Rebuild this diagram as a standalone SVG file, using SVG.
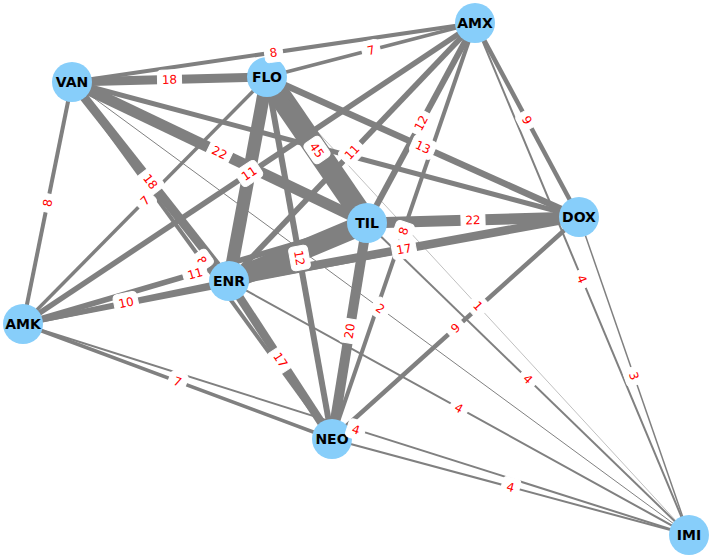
<svg xmlns="http://www.w3.org/2000/svg" width="714" height="560" viewBox="0 0 714 560">
<style>
  .e line { stroke: #808080; stroke-linecap: butt; }
  .n circle { fill: #87CEFA; }
  .n text { font-family: "DejaVu Sans", sans-serif; font-weight: bold; font-size: 14px; fill: #000; text-anchor: middle; }
  .l rect { fill: #fff; stroke: #fff; stroke-width: 1; }
  .l text { font-family: "DejaVu Sans", sans-serif; font-size: 12px; fill: #ff0000; text-anchor: middle; }
</style>
<rect width="714" height="560" fill="#fff"/>
<g id="connectors" class="e">
  <line x1="72" y1="82" x2="475" y2="23" stroke-width="4"/>
  <line x1="267" y1="77" x2="475" y2="23" stroke-width="3.5"/>
  <line x1="72" y1="82" x2="267" y2="77" stroke-width="9"/>
  <line x1="475" y1="23" x2="367" y2="223" stroke-width="6"/>
  <line x1="475" y1="23" x2="229" y2="281" stroke-width="5.5"/>
  <line x1="475" y1="23" x2="23" y2="324" stroke-width="5.5"/>
  <line x1="475" y1="23" x2="332" y2="439" stroke-width="4"/>
  <line x1="475" y1="23" x2="579" y2="217" stroke-width="4.5"/>
  <line x1="475" y1="23" x2="689" y2="535" stroke-width="2"/>
  <line x1="267" y1="77" x2="579" y2="217" stroke-width="6.5"/>
  <line x1="267" y1="77" x2="367" y2="223" stroke-width="22.5"/>
  <line x1="267" y1="77" x2="229" y2="281" stroke-width="13"/>
  <line x1="267" y1="77" x2="23" y2="324" stroke-width="3.5"/>
  <line x1="267" y1="77" x2="332" y2="439" stroke-width="6"/>
  <line x1="267" y1="77" x2="689" y2="535" stroke-width="0.5"/>
  <line x1="72" y1="82" x2="367" y2="223" stroke-width="11"/>
  <line x1="72" y1="82" x2="229" y2="281" stroke-width="9"/>
  <line x1="72" y1="82" x2="23" y2="324" stroke-width="4"/>
  <line x1="72" y1="82" x2="332" y2="439" stroke-width="4"/>
  <line x1="72" y1="82" x2="689" y2="535" stroke-width="1"/>
  <line x1="72" y1="82" x2="579" y2="217" stroke-width="5"/>
  <line x1="367" y1="223" x2="579" y2="217" stroke-width="11"/>
  <line x1="367" y1="223" x2="229" y2="281" stroke-width="20"/>
  <line x1="367" y1="223" x2="332" y2="439" stroke-width="10"/>
  <line x1="367" y1="223" x2="689" y2="535" stroke-width="2"/>
  <line x1="367" y1="223" x2="23" y2="324" stroke-width="5.5"/>
  <line x1="229" y1="281" x2="579" y2="217" stroke-width="8.5"/>
  <line x1="229" y1="281" x2="23" y2="324" stroke-width="5"/>
  <line x1="229" y1="281" x2="332" y2="439" stroke-width="8.5"/>
  <line x1="229" y1="281" x2="689" y2="535" stroke-width="2"/>
  <line x1="23" y1="324" x2="579" y2="217" stroke-width="4"/>
  <line x1="579" y1="217" x2="332" y2="439" stroke-width="4.5"/>
  <line x1="579" y1="217" x2="689" y2="535" stroke-width="1.5"/>
  <line x1="23" y1="324" x2="332" y2="439" stroke-width="3.5"/>
  <line x1="23" y1="324" x2="689" y2="535" stroke-width="2"/>
  <line x1="332" y1="439" x2="689" y2="535" stroke-width="2"/>
</g>
<g id="nodes" class="n">
  <g id="node-AMX"><circle cx="475" cy="23" r="20"/><text x="475" y="28">AMX</text></g>
  <g id="node-VAN"><circle cx="72" cy="82" r="20"/><text x="72" y="87">VAN</text></g>
  <g id="node-FLO"><circle cx="267" cy="77" r="20"/><text x="267" y="82">FLO</text></g>
  <g id="node-TIL"><circle cx="367" cy="223" r="20"/><text x="367" y="228">TIL</text></g>
  <g id="node-DOX"><circle cx="579" cy="217" r="20"/><text x="579" y="222">DOX</text></g>
  <g id="node-ENR"><circle cx="229" cy="281" r="20"/><text x="229" y="286">ENR</text></g>
  <g id="node-AMK"><circle cx="23" cy="324" r="20"/><text x="23" y="329">AMK</text></g>
  <g id="node-NEO"><circle cx="332" cy="439" r="20"/><text x="332" y="444">NEO</text></g>
  <g id="node-IMI"><circle cx="689" cy="535" r="20"/><text x="689" y="540">IMI</text></g>
</g>
<g id="edge-labels" class="l">
  <g transform="translate(273.5,52.5) rotate(-8.33)"><rect x="-9" y="-9.5" width="18" height="19" rx="4"/><text y="4.3">8</text></g>
  <g transform="translate(371,50) rotate(-14.55)"><rect x="-9" y="-9.5" width="18" height="19" rx="4"/><text y="4.3">7</text></g>
  <g transform="translate(169.5,79.5) rotate(-1.47)"><rect x="-12" y="-9.5" width="24" height="19" rx="4"/><text y="4.3">18</text></g>
  <g transform="translate(421,123) rotate(-61.6)"><rect x="-12" y="-9.5" width="24" height="19" rx="4"/><text y="4.3">12</text></g>
  <g transform="translate(352,152) rotate(-46.36)"><rect x="-12" y="-9.5" width="24" height="19" rx="4"/><text y="4.3">11</text></g>
  <g transform="translate(249,173.5) rotate(-33.66)"><rect x="-12" y="-9.5" width="24" height="19" rx="4"/><text y="4.3">11</text></g>
  <g transform="translate(403.5,231) rotate(-71.03)"><rect x="-9" y="-9.5" width="18" height="19" rx="4"/><text y="4.3">8</text></g>
  <g transform="translate(527,120) rotate(61.8)"><rect x="-9" y="-9.5" width="18" height="19" rx="4"/><text y="4.3">9</text></g>
  <g transform="translate(582,279) rotate(67.3)"><rect x="-9" y="-9.5" width="18" height="19" rx="4"/><text y="4.3">4</text></g>
  <g transform="translate(423,147) rotate(24.17)"><rect x="-12" y="-9.5" width="24" height="19" rx="4"/><text y="4.3">13</text></g>
  <g transform="translate(317,150) rotate(55.6)"><rect x="-12" y="-9.5" width="24" height="19" rx="4"/><text y="4.3">45</text></g>
  <g transform="translate(145,200.5) rotate(-45.35)"><rect x="-9" y="-9.5" width="18" height="19" rx="4"/><text y="4.3">7</text></g>
  <g transform="translate(299.5,258) rotate(79.8)"><rect x="-12" y="-9.5" width="24" height="19" rx="4"/><text y="4.3">12</text></g>
  <g transform="translate(478,306) rotate(47.3)"><rect x="-9" y="-9.5" width="18" height="19" rx="4"/><text y="4.3">1</text></g>
  <g transform="translate(219.5,152.5) rotate(25.5)"><rect x="-12" y="-9.5" width="24" height="19" rx="4"/><text y="4.3">22</text></g>
  <g transform="translate(150.5,181.5) rotate(51.7)"><rect x="-12" y="-9.5" width="24" height="19" rx="4"/><text y="4.3">18</text></g>
  <g transform="translate(47.5,203) rotate(-78.6)"><rect x="-9" y="-9.5" width="18" height="19" rx="4"/><text y="4.3">8</text></g>
  <g transform="translate(202,260.5) rotate(53.9)"><rect x="-9" y="-9.5" width="18" height="19" rx="4"/><text y="4.3">8</text></g>
  <g transform="translate(380.5,308.5) rotate(36.3)"><rect x="-9" y="-9.5" width="18" height="19" rx="4"/><text y="4.3">2</text></g>
  <g transform="translate(473,220) rotate(-1.6)"><rect x="-12" y="-9.5" width="24" height="19" rx="4"/><text y="4.3">22</text></g>
  <g transform="translate(349.5,331) rotate(-80.8)"><rect x="-12" y="-9.5" width="24" height="19" rx="4"/><text y="4.3">20</text></g>
  <g transform="translate(528,379) rotate(44.1)"><rect x="-9" y="-9.5" width="18" height="19" rx="4"/><text y="4.3">4</text></g>
  <g transform="translate(195,273.5) rotate(-16.4)"><rect x="-12" y="-9.5" width="24" height="19" rx="4"/><text y="4.3">11</text></g>
  <g transform="translate(404,249) rotate(-10.4)"><rect x="-12" y="-9.5" width="24" height="19" rx="4"/><text y="4.3">17</text></g>
  <g transform="translate(126,302.5) rotate(-11.8)"><rect x="-12" y="-9.5" width="24" height="19" rx="4"/><text y="4.3">10</text></g>
  <g transform="translate(280.5,360) rotate(56.9)"><rect x="-12" y="-9.5" width="24" height="19" rx="4"/><text y="4.3">17</text></g>
  <g transform="translate(459,408) rotate(28.9)"><rect x="-9" y="-9.5" width="18" height="19" rx="4"/><text y="4.3">4</text></g>
  <g transform="translate(455.5,328) rotate(-41.95)"><rect x="-9" y="-9.5" width="18" height="19" rx="4"/><text y="4.3">9</text></g>
  <g transform="translate(634,376) rotate(70.9)"><rect x="-9" y="-9.5" width="18" height="19" rx="4"/><text y="4.3">3</text></g>
  <g transform="translate(177.5,381.5) rotate(20.4)"><rect x="-9" y="-9.5" width="18" height="19" rx="4"/><text y="4.3">7</text></g>
  <g transform="translate(356,429.5) rotate(17.6)"><rect x="-9" y="-9.5" width="18" height="19" rx="4"/><text y="4.3">4</text></g>
  <g transform="translate(510.5,487) rotate(15.05)"><rect x="-9" y="-9.5" width="18" height="19" rx="4"/><text y="4.3">4</text></g>
</g>
</svg>
